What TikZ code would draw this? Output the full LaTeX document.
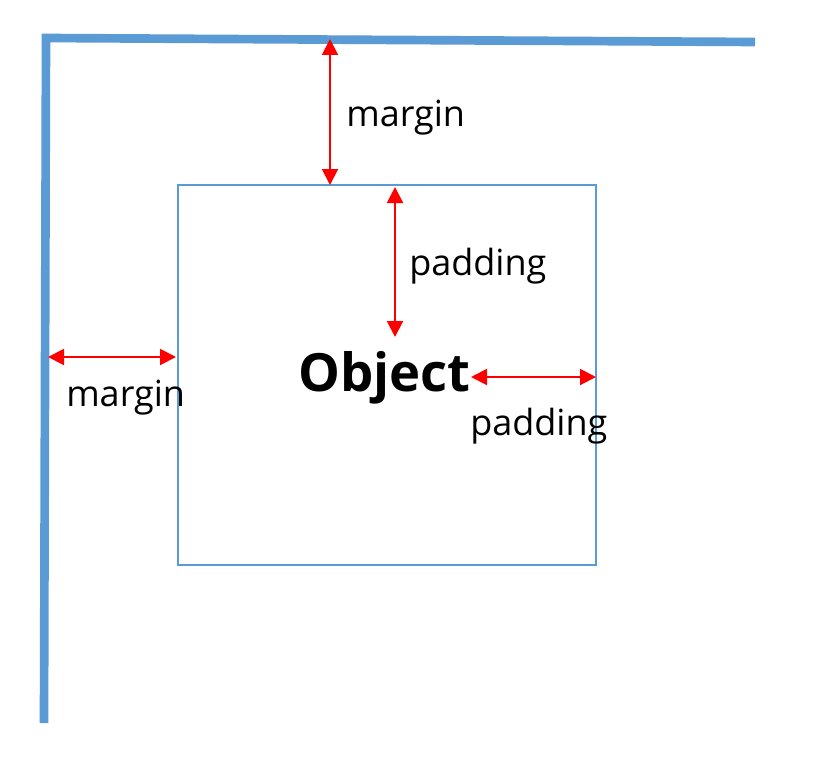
\documentclass[tikz,border=0pt]{standalone}
\usepackage{fontspec}
\setmainfont{Open Sans}
\usetikzlibrary{arrows.meta}
\definecolor{frameblue}{HTML}{5B9BD5}
\tikzset{
  dim/.style={draw=red, line width=1.5pt, {Triangle[length=12pt,width=12pt]}-{Triangle[length=12pt,width=12pt]}},
  lbl/.style={font=\fontsize{27}{30}\selectfont, text=black, inner sep=0pt},
}
\begin{document}
\begin{tikzpicture}[x=0.75pt,y=-0.75pt]
\useasboundingbox (0,0) rectangle (816,756);
% outer container edges
\coordinate (tl) at (46,38);
\coordinate (bl) at (44,723);
\coordinate (tr) at (755,42);
\draw[frameblue, line width=6.5pt] (bl) -- (tl) -- (tr);
% object box
\node[draw=frameblue, line width=2.2pt, minimum width=418*0.75pt, minimum height=380*0.75pt, inner sep=0pt] (box) at (387,375) {};
% object label
\node[font=\bfseries\fontsize{39.5}{42}\selectfont, inner sep=0pt, anchor=east] (obj) at (471,378) {Object};
% coordinates
\coordinate (mt1) at (330,39);
\coordinate (mt2) at (330,185);
\coordinate (pt1) at (395,187);
\coordinate (pt2) at (395,337);
\coordinate (ml1) at (48,357);
\coordinate (ml2) at (176,357);
\coordinate (pr2) at (596,377);
% dims
\draw[dim] (mt1) -- (mt2);
\draw[dim] (pt1) -- (pt2);
\draw[dim] (ml1) -- (ml2);
\draw[dim] (obj.east |- pr2) -- (pr2);
% labels
\node[lbl, anchor=west] (l1) at (346,118) {margin};
\node[lbl, anchor=west] (l2) at (409,266) {padding};
\node[lbl, anchor=west] (l3) at (66,398) {margin};
\node[lbl, anchor=west] (l4) at (470,426) {padding};
\end{tikzpicture}
\end{document}
